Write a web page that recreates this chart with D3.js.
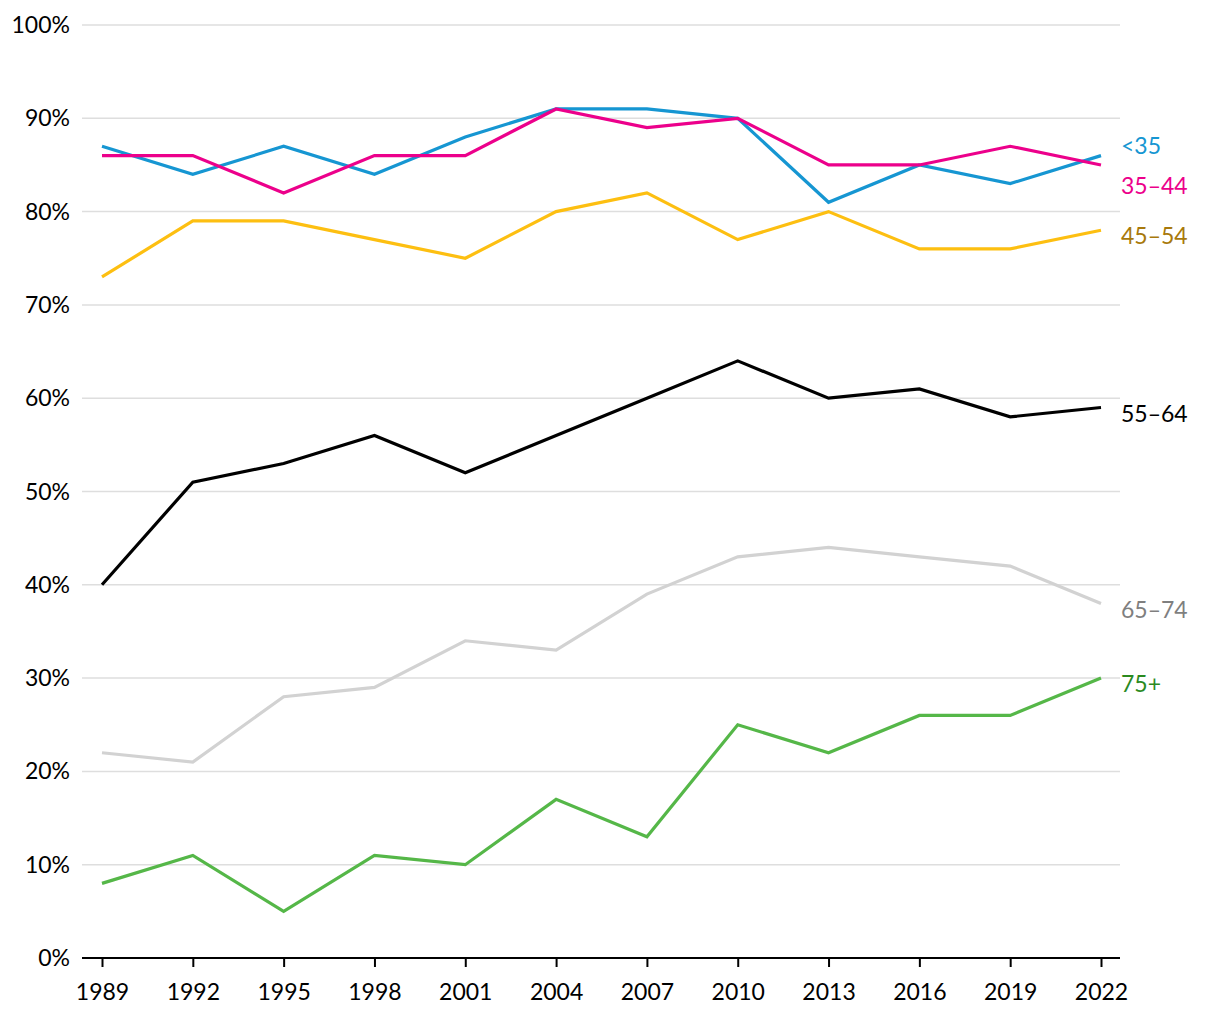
<!DOCTYPE html>
<html><head><meta charset="utf-8">
<script src="https://cdn.jsdelivr.net/npm/d3@7"></script>
<style>
html,body{margin:0;padding:0;background:#fff;}
svg text{font-family:Lato,"Noto Sans",sans-serif;}
</style></head>
<body><svg id="chart" width="1220" height="1020"></svg>
<script>
const years = [1989,1992,1995,1998,2001,2004,2007,2010,2013,2016,2019,2022];
const yTicks = [0,10,20,30,40,50,60,70,80,90,100];
const seriesNames = ["<35","35–44","45–54","55–64","65–74","75+"];
const under35 = [87,84,87,84,88,91,91,90,81,85,83,86];
const age35to44 = [86,86,82,86,86,91,89,90,85,85,87,85];
const age45to54 = [73,79,79,77,75,80,82,77,80,76,76,78];
const age55to64 = [40,51,53,56,52,56,60,64,60,61,58,59];
const age65to74 = [22,21,28,29,34,33,39,43,44,43,42,38];
const age75plus = [8,11,5,11,10,17,13,25,22,26,26,30];
const lineColors = ["#1696d2","#ec008b","#fdbf11","#000000","#d2d2d2","#55b748"];
const labelColors = ["#1696d2","#ec008b","#a8790b","#000000","#7f7f7f","#2b8a1f"];

const seriesValues = [under35, age35to44, age45to54, age55to64, age65to74, age75plus];
const series = seriesNames.map((n,i)=>({name:n, values:seriesValues[i], line:lineColors[i], label:labelColors[i]}));

const svg = d3.select("#chart");
const x = d3.scaleLinear().domain([1989,2022]).range([102,1101]);
const y = d3.scaleLinear().domain([0,100]).range([958,25]);
const gridX0 = 82, gridX1 = 1120;
const fs = 23;

// gridlines
svg.append("g").selectAll("line").data(yTicks.filter(d=>d>0)).join("line")
  .attr("x1",gridX0).attr("x2",gridX1)
  .attr("y1",d=>y(d)).attr("y2",d=>y(d))
  .attr("stroke","#dedede").attr("stroke-width",1.5);

// y labels
svg.append("g").selectAll("text").data(yTicks).join("text")
  .attr("x",70).attr("y",d=>y(d)).attr("dy","0.35em")
  .attr("text-anchor","end").attr("font-size",fs).attr("fill","#000")
  .text(d=>d+"%");

// x axis
const xAxis = d3.axisBottom(x).tickValues(years).tickFormat(d3.format("d")).tickSize(9).tickSizeOuter(0).tickPadding(17);
const xg = svg.append("g").attr("transform",`translate(0,${y(0)})`).call(xAxis);
xg.select(".domain").remove();
xg.selectAll(".tick line").attr("stroke","#000").attr("stroke-width",2);
xg.selectAll(".tick text").attr("font-size",fs).attr("fill","#000").style("font-family","Lato, sans-serif");
svg.append("line").attr("x1",gridX0).attr("x2",gridX1).attr("y1",y(0)).attr("y2",y(0))
  .attr("stroke","#000").attr("stroke-width",2);

// lines
const line = d3.line().x((d,i)=>x(years[i])).y(d=>y(d));
svg.append("g").selectAll("path").data(series).join("path")
  .attr("d",d=>line(d.values)).attr("fill","none")
  .attr("stroke",d=>d.line).attr("stroke-width",3.2).attr("stroke-linejoin","miter");

// labels with simple collision avoidance
const labels = series.map(s=>({s, y:y(s.values[s.values.length-1])+6}));
labels.sort((a,b)=>a.y-b.y);
const gap = 40;
for(let it=0;it<50;it++){
  for(let i=1;i<labels.length;i++){
    const d = labels[i].y - labels[i-1].y;
    if(d<gap){ const m=(gap-d)/2; labels[i].y+=m; labels[i-1].y-=m; }
  }
}
svg.append("g").selectAll("text").data(labels).join("text")
  .attr("x",1121).attr("y",d=>d.y).attr("dy","0.35em")
  .attr("font-size",fs).attr("fill",d=>d.s.label)
  .text(d=>d.s.name);
</script></body></html>
